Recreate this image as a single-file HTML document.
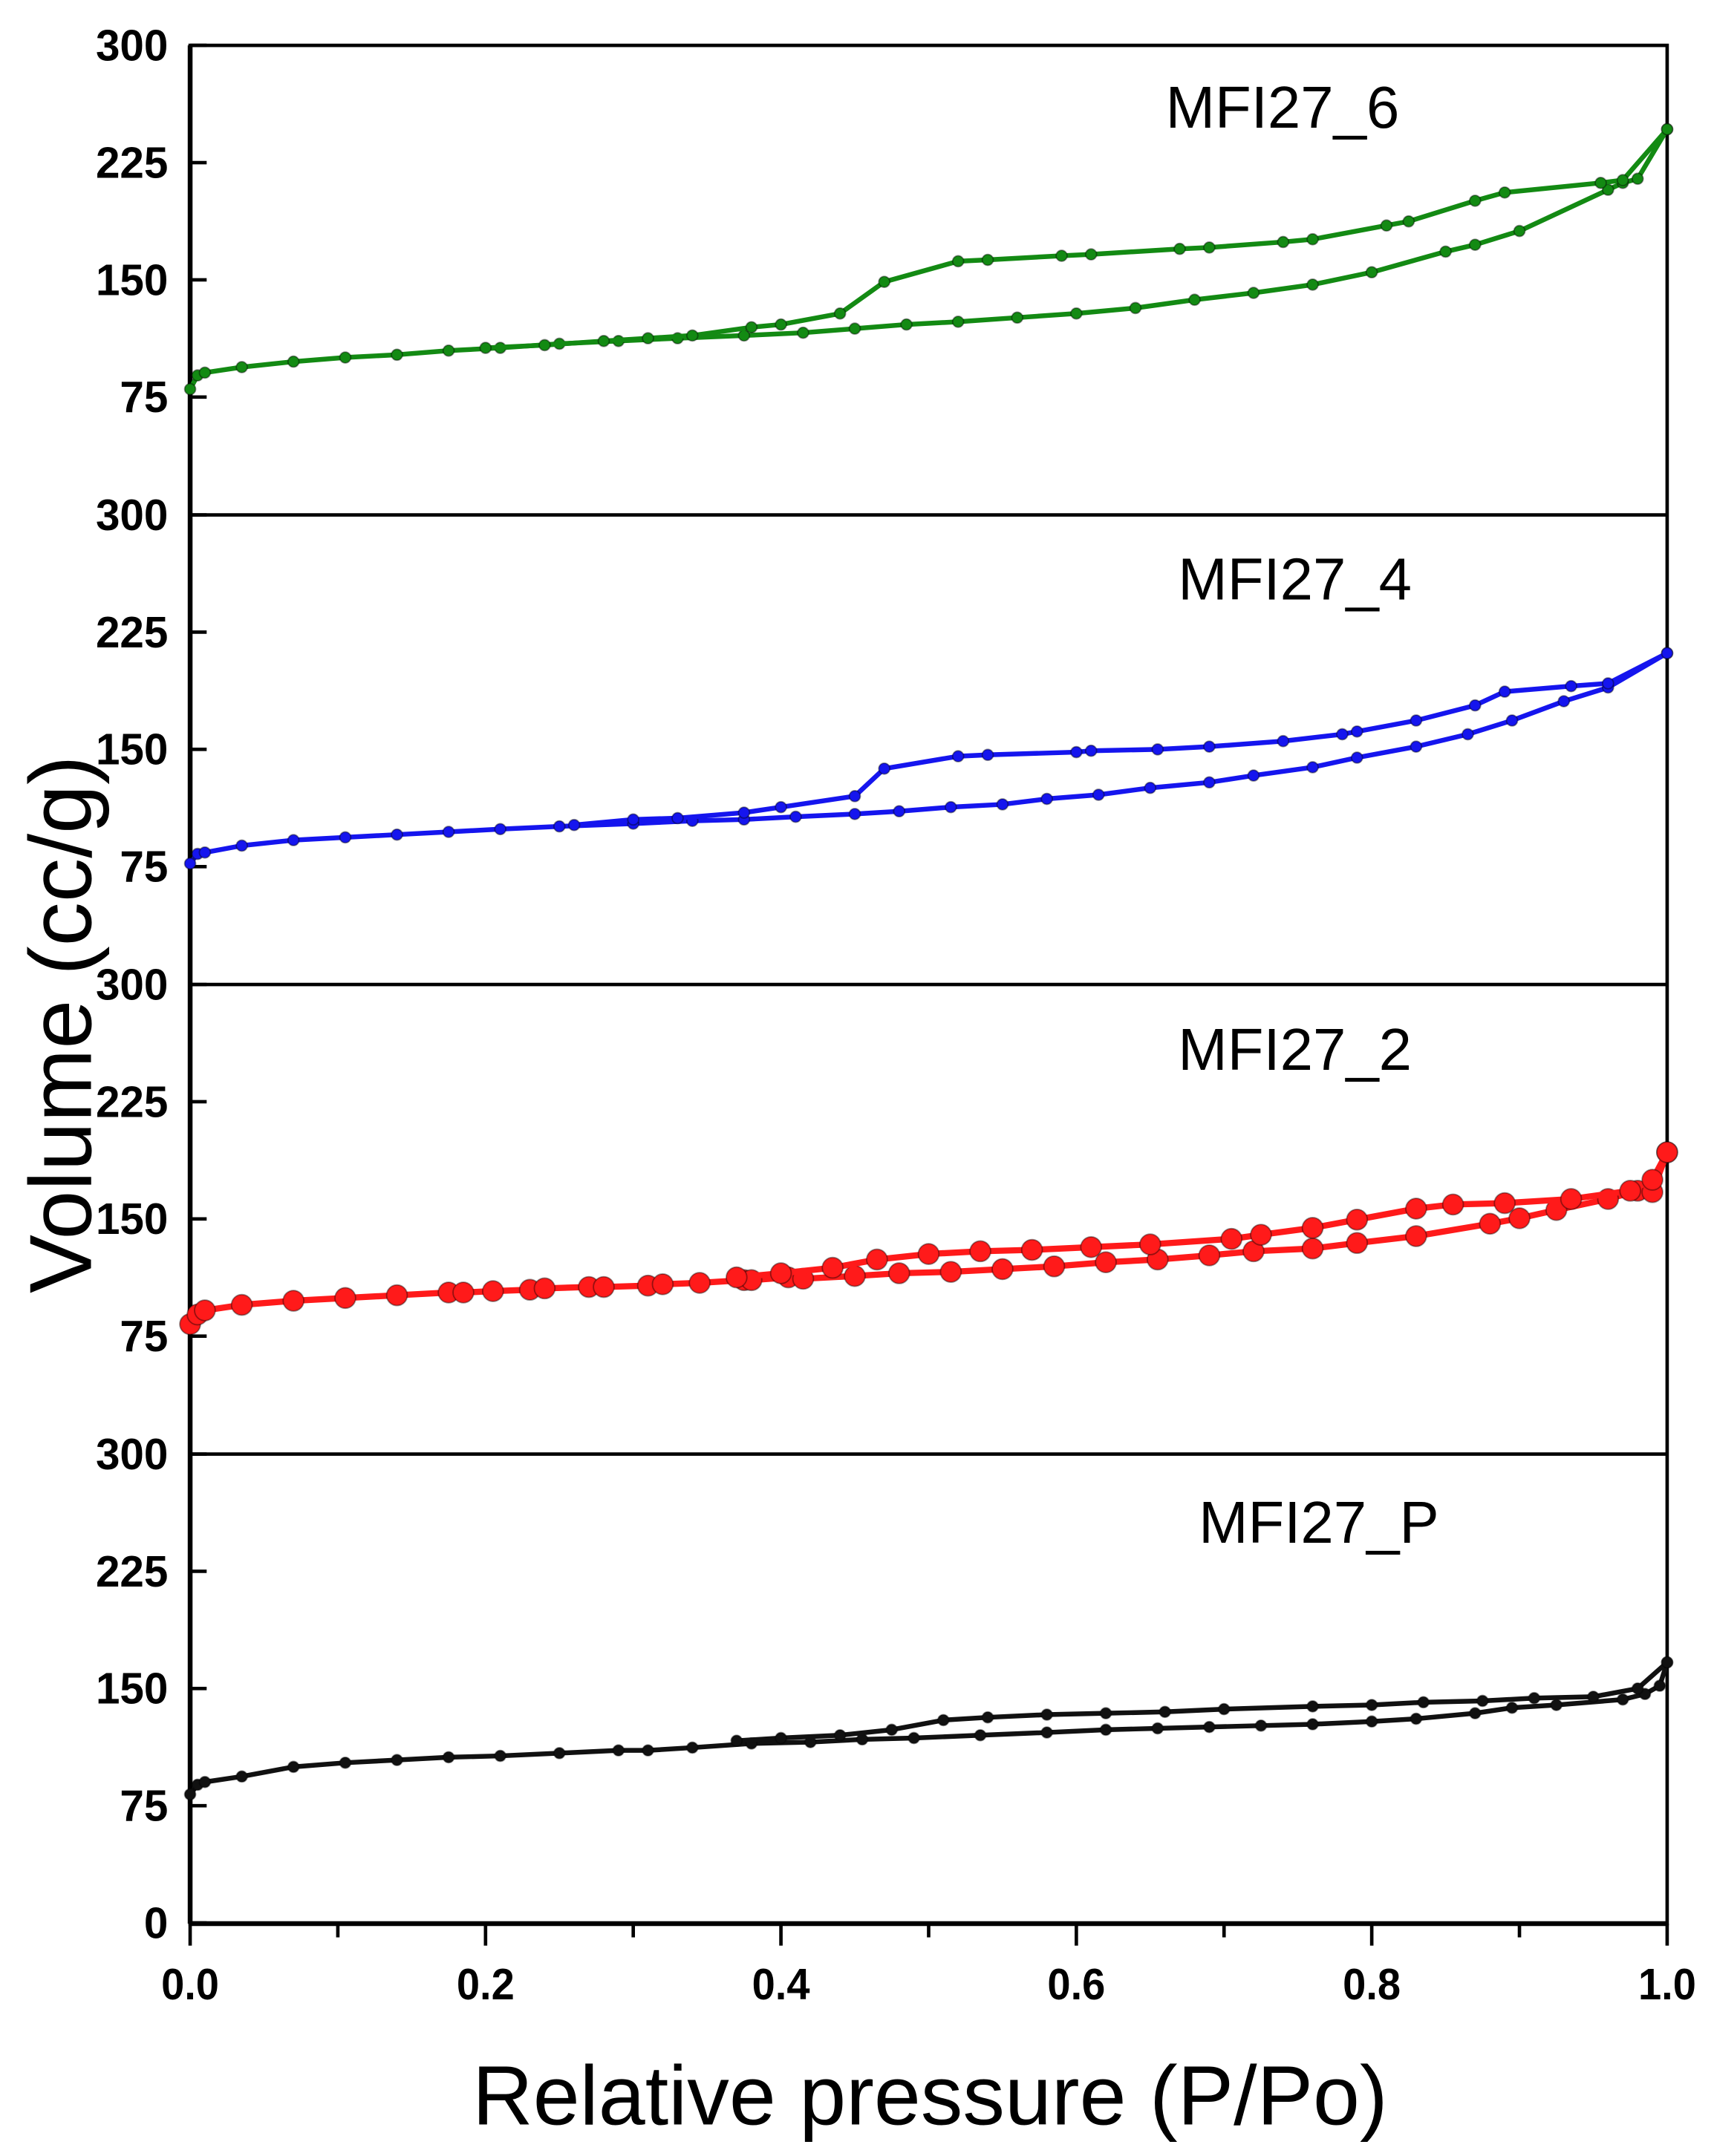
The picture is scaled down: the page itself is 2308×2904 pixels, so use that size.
<!DOCTYPE html>
<html><head><meta charset="utf-8"><style>
html,body{margin:0;padding:0;background:#fff}
svg{display:block}
text{font-family:"Liberation Sans",Arial,sans-serif}
</style></head><body>
<svg id="s" width="2308" height="2904" viewBox="0 0 1244 1568" preserveAspectRatio="none" xmlns="http://www.w3.org/2000/svg">
<g id="g"></g>
</svg>
<script>
const X=p=>138+p*1072;
const g=document.getElementById('g');
let h='';
h+='<rect x="138" y="33" width="1072" height="1366" fill="none" stroke="#000" stroke-width="2.5"/>';
h+='<line x1="138" y1="33" x2="138" y2="1399" stroke="#000" stroke-width="3.5"/>';
h+='<line x1="138" y1="1399" x2="1210" y2="1399" stroke="#000" stroke-width="3.5"/>';
for(let i=1;i<4;i++){const y=33+i*341.5;h+=`<line x1="138" y1="${y}" x2="1210" y2="${y}" stroke="#000" stroke-width="2.5"/>`;}
for(let i=0;i<4;i++){
  const T=33+i*341.5;
  const vals=i==3?[300,225,150,75,0]:[300,225,150,75];
  for(const v of vals){const y=T+(300-v)*1.1367;
    h+=`<line x1="138" y1="${y}" x2="150" y2="${y}" stroke="#000" stroke-width="2.5"/>`;
    h+=`<text x="122" y="${y+11}" font-size="32" font-weight="bold" text-anchor="end" textLength="${String(v).length*17.5}" lengthAdjust="spacingAndGlyphs">${v}</text>`;}
}
for(let k=0;k<=10;k++){const x=X(k/10);const maj=k%2==0;
  h+=`<line x1="${x}" y1="1399" x2="${x}" y2="${maj?1415:1409}" stroke="#000" stroke-width="2.5"/>`;
  if(maj)h+=`<text x="${x}" y="1454" font-size="32" font-weight="bold" text-anchor="middle" textLength="42" lengthAdjust="spacingAndGlyphs">${(k/10).toFixed(1)}</text>`;}
h+='<text x="675" y="1545" font-size="61" text-anchor="middle">Relative pressure (P/Po)</text>';
h+='<text transform="translate(66,745) rotate(-90)" font-size="64" text-anchor="middle">Volume (cc/g)</text>';
h+='<text x="846" y="93" font-size="43">MFI27_6</text>';
h+='<text x="855" y="436" font-size="43">MFI27_4</text>';
h+='<text x="855" y="778" font-size="43">MFI27_2</text>';
h+='<text x="870" y="1122" font-size="43">MFI27_P</text>';
function series(pts,col,r,sw){
  const d=pts.map((p,i)=>(i?'L':'M')+X(p[0]).toFixed(1)+' '+p[1]).join(' ');
  let s=`<path d="${d}" fill="none" stroke="${col}" stroke-width="${sw}" stroke-linejoin="round"/>`;
  for(const p of pts)s+=`<circle cx="${X(p[0]).toFixed(1)}" cy="${p[1]}" r="${r}" fill="${col}" stroke="#000" stroke-opacity="0.4" stroke-width="1"/>`;
  return s;
}
const gA=[[0,283],[0.005,273],[0.01,271],[0.035,267],[0.07,263],[0.105,260],[0.14,258],[0.175,255],[0.21,253],[0.25,250],[0.29,248],[0.33,246],[0.375,244],[0.415,242],[0.45,239],[0.485,236],[0.52,234],[0.56,231],[0.6,228],[0.64,224],[0.68,218],[0.72,213],[0.76,207],[0.8,198],[0.85,183],[0.87,178],[0.9,168],[0.96,138],[0.97,133],[0.98,130],[1.0,94]];
const gD=[[1.0,94],[0.97,131],[0.955,133],[0.89,140],[0.87,146],[0.825,161],[0.81,164],[0.76,174],[0.74,176],[0.69,180],[0.67,181],[0.61,185],[0.59,186],[0.54,189],[0.52,190],[0.47,205],[0.44,228],[0.4,236],[0.38,238],[0.34,244],[0.31,246],[0.28,248],[0.24,251],[0.2,253]];
const bA=[[0,628],[0.005,621],[0.01,620],[0.035,615],[0.07,611],[0.105,609],[0.14,607],[0.175,605],[0.21,603],[0.25,601],[0.3,599],[0.34,597],[0.375,596],[0.41,594],[0.45,592],[0.48,590],[0.515,587],[0.55,585],[0.58,581],[0.615,578],[0.65,573],[0.69,569],[0.72,564],[0.76,558],[0.79,551],[0.83,543],[0.865,534],[0.895,524],[0.93,510],[0.96,500],[1.0,475]];
const bD=[[1.0,475],[0.96,497],[0.935,499],[0.89,503],[0.87,513],[0.83,524],[0.79,532],[0.78,534],[0.74,539],[0.69,543],[0.655,545],[0.61,546],[0.6,547],[0.54,549],[0.52,550],[0.47,559],[0.45,579],[0.4,587],[0.375,591],[0.33,595],[0.3,596],[0.26,600]];
const rA=[[0,963],[0.005,956],[0.01,953],[0.035,949],[0.07,946],[0.105,944],[0.14,942],[0.175,940],[0.185,940],[0.205,939],[0.23,938],[0.24,937],[0.27,936],[0.28,936],[0.31,935],[0.32,934],[0.345,933],[0.375,931],[0.38,931],[0.405,929],[0.415,930],[0.45,928],[0.48,926],[0.515,925],[0.55,923],[0.585,921],[0.62,918],[0.655,916],[0.69,913],[0.72,910],[0.76,908],[0.79,904],[0.83,899],[0.88,890],[0.9,886],[0.925,880],[0.96,872],[0.98,866],[0.99,867],[1.0,838]];
const rD=[[1.0,838],[0.99,858],[0.975,866],[0.935,872],[0.89,875],[0.855,876],[0.83,879],[0.79,887],[0.76,893],[0.725,898],[0.705,901],[0.65,905],[0.61,907],[0.57,909],[0.535,910],[0.5,912],[0.465,916],[0.435,922],[0.4,926],[0.37,929]];
const kA=[[0,1305],[0.005,1298],[0.01,1296],[0.035,1292],[0.07,1285],[0.105,1282],[0.14,1280],[0.175,1278],[0.21,1277],[0.25,1275],[0.29,1273],[0.31,1273],[0.34,1271],[0.38,1268],[0.42,1267],[0.455,1265],[0.49,1264],[0.535,1262],[0.58,1260],[0.62,1258],[0.655,1257],[0.69,1256],[0.725,1255],[0.76,1254],[0.8,1252],[0.83,1250],[0.87,1246],[0.895,1242],[0.925,1240],[0.97,1236],[0.985,1232],[0.995,1226],[1.0,1209]];
const kD=[[1.0,1209],[0.98,1228],[0.95,1234],[0.91,1235],[0.875,1237],[0.835,1238],[0.8,1240],[0.76,1241],[0.7,1243],[0.66,1245],[0.62,1246],[0.58,1247],[0.54,1249],[0.51,1251],[0.475,1258],[0.44,1262],[0.4,1264],[0.37,1266]];
h+=series(gA,'#138a13',4,3.5)+series(gD,'#138a13',4,3.5);
h+=series(bA,'#1515ee',4,3.5)+series(bD,'#1515ee',4,3.5);
h+=series(rA,'#ff1a1a',7.5,4.5)+series(rD,'#ff1a1a',7.5,4.5);
h+=series(kA,'#111',4,3.5)+series(kD,'#111',4,3.5);
g.innerHTML=h;
</script>
</body></html>
